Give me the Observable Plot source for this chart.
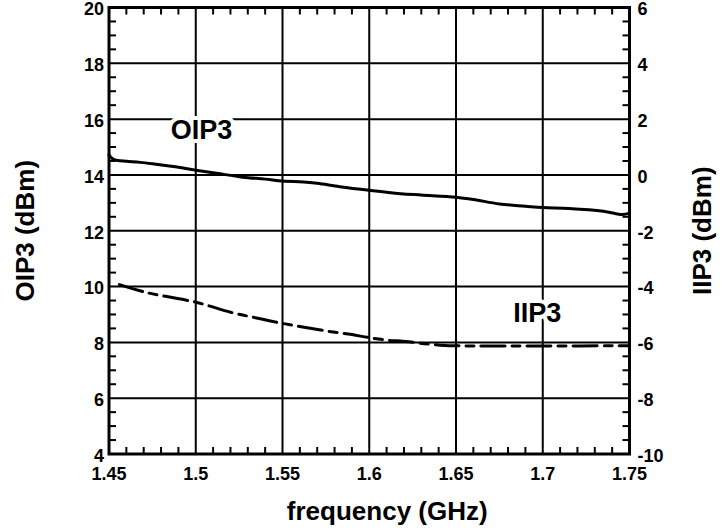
<!DOCTYPE html>
<html>
<head>
<meta charset="utf-8">
<script src="https://cdn.jsdelivr.net/npm/d3@7"></script>
<script src="https://cdn.jsdelivr.net/npm/@observablehq/plot@0.6"></script>
<style>
  html, body { margin: 0; padding: 0; background: #fff; }
  svg { display: block; }
</style>
</head>
<body>
<div id="chart"></div>
<script>
// frequency (GHz)
const oipFreq = [1.45, 1.452, 1.455, 1.46, 1.468, 1.475, 1.487, 1.5, 1.512, 1.527, 1.54, 1.55, 1.562, 1.57, 1.583, 1.6, 1.618, 1.63, 1.65, 1.66, 1.675, 1.69, 1.70, 1.715, 1.735, 1.746, 1.75];
// OIP3 (dBm), left axis
const oip3 = [14.72, 14.58, 14.52, 14.49, 14.45, 14.4, 14.3, 14.17, 14.06, 13.92, 13.85, 13.78, 13.75, 13.7, 13.58, 13.45, 13.33, 13.28, 13.2, 13.12, 12.96, 12.88, 12.83, 12.8, 12.7, 12.58, 12.63];

const iipFreq = [1.456, 1.472, 1.5, 1.52, 1.533, 1.55, 1.574, 1.59, 1.6, 1.613, 1.618, 1.641, 1.66, 1.70, 1.75];
// IIP3 (dBm), right axis
const iip3 = [-3.93, -4.22, -4.56, -4.92, -5.1, -5.32, -5.58, -5.72, -5.83, -5.94, -5.95, -6.1, -6.13, -6.13, -6.12];

// right axis value = left axis value - axisOffset
const axisOffset = 14;

const xDomain = [1.45, 1.75];
const yDomain = [4, 20];
const xMajor = [1.45, 1.5, 1.55, 1.6, 1.65, 1.7, 1.75];
const xMinor = [1.46, 1.47, 1.48, 1.49, 1.51, 1.52, 1.53, 1.54, 1.56, 1.57, 1.58, 1.59, 1.61, 1.62, 1.63, 1.64, 1.66, 1.67, 1.68, 1.69, 1.71, 1.72, 1.73, 1.74];
const yMajor = [4, 6, 8, 10, 12, 14, 16, 18, 20];
const yMinor = [4.5, 5, 5.5, 6.5, 7, 7.5, 8.5, 9, 9.5, 10.5, 11, 11.5, 12.5, 13, 13.5, 14.5, 15, 15.5, 16.5, 17, 17.5, 18.5, 19, 19.5];

const labelText = ["OIP3", "IIP3"];
const labelFreq = [1.5033, 1.6968];
const labelLeftValue = [15.6, 9.03];

const oipData = oipFreq.map((f, i) => ({f, v: oip3[i]}));
const iipData = iipFreq.map((f, i) => ({f, v: iip3[i] + axisOffset}));
const labels = labelText.map((t, i) => ({t, f: labelFreq[i], v: labelLeftValue[i]}));
const xTicks = xMinor.map(f => ({f}));
const yTicks = yMinor.map(v => ({v}));

const font = "'Liberation Sans', Arial, sans-serif";

const W = 724, H = 531, ML = 108.5, MR = 95, MT = 7, MB = 77.5;
const FW = W - ML - MR, FH = H - MT - MB;
const T = 7; // minor tick length in px (inward)
const tx = T * (xDomain[1] - xDomain[0]) / FW;
const ty = T * (yDomain[1] - yDomain[0]) / FH;

const chart = Plot.plot({
  width: W,
  height: H,
  marginLeft: ML,
  marginRight: MR,
  marginTop: MT,
  marginBottom: MB,
  style: {fontFamily: font, fontWeight: "bold", fontSize: "18px", color: "#000", background: "#fff"},
  x: {domain: xDomain},
  y: {domain: yDomain},
  marks: [
    Plot.gridX(xMajor, {stroke: "#000", strokeOpacity: 1, strokeWidth: 2}),
    Plot.gridY(yMajor, {stroke: "#000", strokeOpacity: 1, strokeWidth: 2}),
    Plot.link(xTicks, {x1: "f", x2: "f", y1: () => yDomain[1], y2: () => yDomain[1] - ty, stroke: "#000", strokeWidth: 2}),
    Plot.link(xTicks, {x1: "f", x2: "f", y1: () => yDomain[0], y2: () => yDomain[0] + ty, stroke: "#000", strokeWidth: 2}),
    Plot.link(yTicks, {y1: "v", y2: "v", x1: () => xDomain[0], x2: () => xDomain[0] + tx, stroke: "#000", strokeWidth: 2}),
    Plot.link(yTicks, {y1: "v", y2: "v", x1: () => xDomain[1], x2: () => xDomain[1] - tx, stroke: "#000", strokeWidth: 2}),
    Plot.axisX({anchor: "bottom", ticks: xMajor, tickSize: 0, tickPadding: 13, tickFormat: d => String(d), label: null, fontSize: 18}),
    Plot.axisY({anchor: "left", ticks: yMajor, tickSize: 0, tickPadding: 5, dy: 2, tickFormat: d => String(d), label: null, fontSize: 18}),
    Plot.axisY({anchor: "right", ticks: yMajor, tickSize: 0, tickPadding: 8, dy: 2, tickFormat: d => String(d - axisOffset), label: null, fontSize: 18}),
    Plot.line(oipData, {x: "f", y: "v", stroke: "#000", strokeWidth: 3, curve: "catmull-rom"}),
    Plot.line(iipData, {x: "f", y: "v", stroke: "#000", strokeWidth: 3, strokeDasharray: "24,7,8,7", curve: "catmull-rom"}),
    Plot.text(labels, {x: "f", y: "v", text: "t", fontSize: 27, fontWeight: "bold", fill: "#000", stroke: "#fff", strokeWidth: 8, paintOrder: "stroke"}),
    Plot.frame({stroke: "#000", strokeWidth: 3}),
    Plot.text(["frequency (GHz)"], {frameAnchor: "bottom", textAnchor: "middle", dx: 18, dy: 66, fontSize: 26, fontWeight: "bold", fill: "#000"}),
    Plot.text(["OIP3 (dBm)"], {frameAnchor: "left", textAnchor: "middle", dx: -83, rotate: -90, fontSize: 26, fontWeight: "bold", fill: "#000"}),
    Plot.text(["IIP3 (dBm)"], {frameAnchor: "right", textAnchor: "middle", dx: 73, rotate: -90, fontSize: 26, fontWeight: "bold", fill: "#000"})
  ]
});
document.getElementById("chart").appendChild(chart);
</script>
</body>
</html>
